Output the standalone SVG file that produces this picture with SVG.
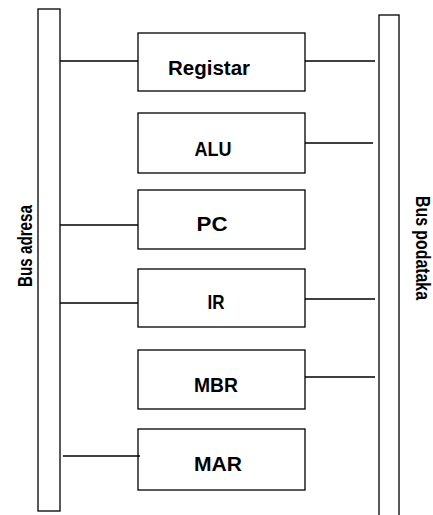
<svg xmlns="http://www.w3.org/2000/svg" width="433" height="515" viewBox="0 0 433 515">
<style>
.bus{fill:#fff;stroke:#000;stroke-width:1.3}
.box{fill:#fff;stroke:#000;stroke-width:1.3}
.ln{stroke:#000;stroke-width:1.3;fill:none}
.t{font-family:"Liberation Sans",Arial,sans-serif;font-weight:bold;font-size:20px;fill:#000}
</style>
<rect width="433" height="515" fill="#fff"/>
<g id="bus-adresa">
<rect class="bus" x="38" y="9" width="22" height="502"/>
<text class="t" transform="translate(32,246) rotate(-90)" text-anchor="middle" textLength="82" lengthAdjust="spacingAndGlyphs">Bus adresa</text>
</g>
<g id="bus-podataka">
<rect class="bus" x="379" y="15" width="20" height="510"/>
<text class="t" transform="translate(416,248) rotate(90)" text-anchor="middle" textLength="104" lengthAdjust="spacingAndGlyphs">Bus podataka</text>
</g>
<g id="registar">
<rect class="box" x="138" y="33" width="167" height="58"/>
<text class="t" x="209" y="75" text-anchor="middle" textLength="82" lengthAdjust="spacingAndGlyphs">Registar</text>
</g>
<g id="alu">
<rect class="box" x="138" y="113" width="167" height="60"/>
<text class="t" x="213" y="156" text-anchor="middle" textLength="37" lengthAdjust="spacingAndGlyphs">ALU</text>
</g>
<g id="pc">
<rect class="box" x="138" y="190" width="167" height="59"/>
<text class="t" x="212" y="231" text-anchor="middle" textLength="31" lengthAdjust="spacingAndGlyphs">PC</text>
</g>
<g id="ir">
<rect class="box" x="138" y="269" width="167" height="58"/>
<text class="t" x="216" y="309" text-anchor="middle" textLength="17" lengthAdjust="spacingAndGlyphs">IR</text>
</g>
<g id="mbr">
<rect class="box" x="138" y="350" width="167" height="59"/>
<text class="t" x="216" y="392" text-anchor="middle" textLength="44" lengthAdjust="spacingAndGlyphs">MBR</text>
</g>
<g id="mar">
<rect class="box" x="138" y="429" width="167" height="61"/>
<text class="t" x="218" y="471" text-anchor="middle" textLength="48" lengthAdjust="spacingAndGlyphs">MAR</text>
</g>
<g id="connectors">
<line class="ln" x1="60" y1="61" x2="138" y2="61"/>
<line class="ln" x1="305" y1="61" x2="375" y2="61"/>
<line class="ln" x1="305" y1="143" x2="373" y2="143"/>
<line class="ln" x1="60" y1="225" x2="138" y2="225"/>
<line class="ln" x1="60" y1="303" x2="138" y2="303"/>
<line class="ln" x1="305" y1="299" x2="375" y2="299"/>
<line class="ln" x1="305" y1="377" x2="375" y2="377"/>
<line class="ln" x1="63" y1="456" x2="140" y2="456"/>
</g>
</svg>
